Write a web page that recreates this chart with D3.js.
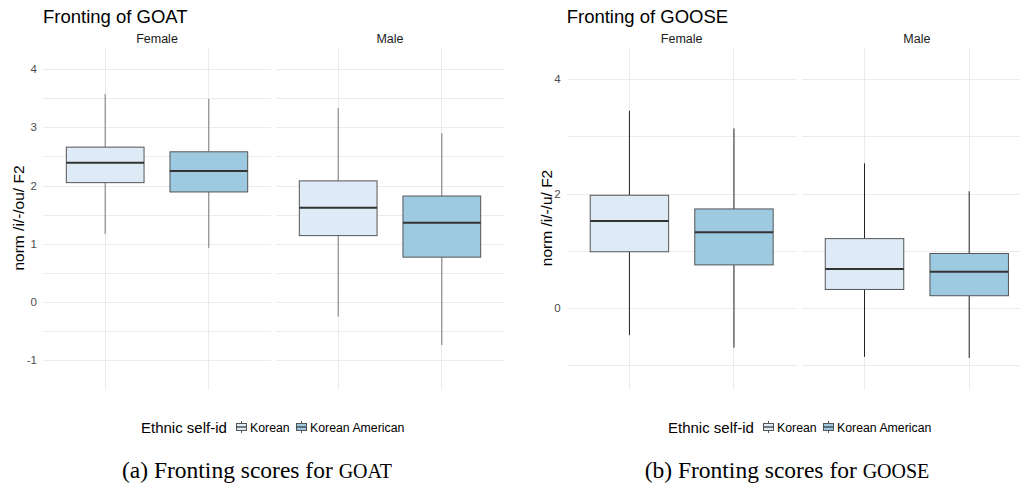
<!DOCTYPE html>
<html>
  <head>
    <meta charset="utf-8">
    <title>Fronting of GOAT and GOOSE</title>
    <style>
      body { margin: 0; background: #fff; }
      svg { display: block; font-family: "Liberation Sans", Arial, sans-serif; }
      .grid { stroke: #ebebeb; stroke-width: 1px; shape-rendering: crispEdges; }
      .tick-label { fill: #4d4d4d; font-size: 11.5px; }
      .strip { fill: #1a1a1a; font-size: 12.5px; }
      .title { fill: #000; font-size: 18.5px; }
      .ytitle { fill: #000; font-size: 15.5px; }
      .caption, .caption tspan { font-family: "Liberation Serif", "Times New Roman", serif; fill: #000; }
      .caption { font-size: 23.5px; }
      .caption .sc { font-size: 20px; }
    </style>
  </head>
  <body>
    <script src="https://cdn.jsdelivr.net/npm/d3@7"></script>
    <script>
      const width = 1020;
      const height = 486;

      const genders = ["Female", "Male"];
      const ethnicities = ["Korean", "Korean American"];
      const fills = ["#deebf7", "#9ecae1"];

      // order of each array: Female-Korean, Female-KA, Male-Korean, Male-KA
      const goatLow = [1.17, 0.93, -0.25, -0.74];
      const goatQ1 = [2.05, 1.89, 1.14, 0.77];
      const goatMedian = [2.39, 2.25, 1.62, 1.36];
      const goatQ3 = [2.66, 2.58, 2.08, 1.82];
      const goatHigh = [3.57, 3.49, 3.33, 2.90];
      const goatTicks = [-1, 0, 1, 2, 3, 4];
      const goatMinor = [-0.5, 0.5, 1.5, 2.5, 3.5];

      const gooseLow = [-0.48, -0.70, -0.86, -0.88];
      const gooseQ1 = [0.98, 0.75, 0.32, 0.21];
      const gooseMedian = [1.52, 1.32, 0.68, 0.63];
      const gooseQ3 = [1.97, 1.73, 1.21, 0.95];
      const gooseHigh = [3.45, 3.14, 2.53, 2.04];
      const gooseTicks = [0, 2, 4];
      const gooseMinor = [-1, 1, 3];

      const svg = d3.select("body")
        .append("svg")
        .attr("width", width)
        .attr("height", height);

      function toRows(low, q1, med, q3, high) {
        return low.map((d, i) => ({
          gender: genders[Math.floor(i / 2)],
          eth: ethnicities[i % 2],
          low: d, q1: q1[i], med: med[i], q3: q3[i], high: high[i]
        }));
      }

      function drawChart(opts) {
        const g = svg.append("g");
        const y = d3.scaleLinear().domain(opts.yDomain).range([390, 47]);

        g.append("text")
          .attr("class", "title")
          .attr("x", opts.panels[0][0])
          .attr("y", 23)
          .text(opts.title);

        g.append("text")
          .attr("class", "ytitle")
          .attr("transform", `translate(${opts.yTitleX},218) rotate(-90)`)
          .attr("text-anchor", "middle")
          .text(opts.yTitle);

        g.selectAll(".tick-label")
          .data(opts.ticks)
          .join("text")
          .attr("class", "tick-label")
          .attr("x", opts.panels[0][0] - 6)
          .attr("y", d => y(d))
          .attr("dy", "0.35em")
          .attr("text-anchor", "end")
          .text(d => d);

        genders.forEach((gender, gi) => {
          const [x0, x1] = opts.panels[gi];
          const x = d3.scalePoint().domain(ethnicities).range([x0, x1]).padding(0.6);
          const boxW = x.step() * 0.75;
          const p = g.append("g");

          p.append("text")
            .attr("class", "strip")
            .attr("x", (x0 + x1) / 2)
            .attr("y", 43)
            .attr("text-anchor", "middle")
            .text(gender);

          p.selectAll(".hgrid")
            .data(opts.ticks.concat(opts.minor))
            .join("line")
            .attr("class", "grid")
            .attr("x1", x0).attr("x2", x1)
            .attr("y1", d => Math.round(y(d)) + 0.5)
            .attr("y2", d => Math.round(y(d)) + 0.5);

          p.selectAll(".vgrid")
            .data(ethnicities)
            .join("line")
            .attr("class", "grid")
            .attr("x1", d => x(d)).attr("x2", d => x(d))
            .attr("y1", 47).attr("y2", 390);

          const rows = opts.rows.filter(r => r.gender === gender);
          const box = p.selectAll(".box")
            .data(rows)
            .join("g");

          box.append("line")
            .attr("x1", d => x(d.eth)).attr("x2", d => x(d.eth))
            .attr("y1", d => y(d.high)).attr("y2", d => y(d.q3))
            .attr("stroke", opts.whisker).attr("stroke-width", 1);
          box.append("line")
            .attr("x1", d => x(d.eth)).attr("x2", d => x(d.eth))
            .attr("y1", d => y(d.q1)).attr("y2", d => y(d.low))
            .attr("stroke", opts.whisker).attr("stroke-width", 1);
          box.append("rect")
            .attr("x", d => x(d.eth) - boxW / 2)
            .attr("y", d => y(d.q3))
            .attr("width", boxW)
            .attr("height", d => y(d.q1) - y(d.q3))
            .attr("fill", d => fills[ethnicities.indexOf(d.eth)])
            .attr("stroke", "#555")
            .attr("stroke-width", 1);
          box.append("line")
            .attr("x1", d => x(d.eth) - boxW / 2).attr("x2", d => x(d.eth) + boxW / 2)
            .attr("y1", d => y(d.med)).attr("y2", d => y(d.med))
            .attr("stroke", "#333").attr("stroke-width", 2);
        });

        // legend
        const lg = g.append("g").attr("transform", `translate(${opts.legendX},427)`);
        lg.append("text")
          .attr("y", 5.5)
          .attr("font-size", 15)
          .attr("fill", "#000")
          .text("Ethnic self-id");
        const keyX = [95, 155];
        ethnicities.forEach((eth, i) => {
          const k = lg.append("g").attr("transform", `translate(${keyX[i]},0)`);
          k.append("line").attr("x1", 5.5).attr("x2", 5.5).attr("y1", -6).attr("y2", 6)
            .attr("stroke", "#555");
          k.append("rect").attr("x", 0.5).attr("y", -3.5).attr("width", 10).attr("height", 7)
            .attr("fill", fills[i]).attr("stroke", "#555");
          k.append("line").attr("x1", 0.5).attr("x2", 10.5).attr("y1", 0).attr("y2", 0)
            .attr("stroke", "#333").attr("stroke-width", 1.2);
          k.append("text")
            .attr("x", 14)
            .attr("y", 4.5)
            .attr("font-size", 12.3)
            .attr("fill", "#000")
            .text(eth);
        });

        // caption with small-caps word (uppercase at reduced size)
        const cap = g.append("text")
          .attr("class", "caption")
          .attr("x", opts.captionX)
          .attr("y", 478)
          .attr("text-anchor", "middle");
        cap.append("tspan").text(opts.caption);
        cap.append("tspan").attr("class", "sc").text(opts.captionWord);
      }

      drawChart({
        title: "Fronting of GOAT",
        yTitle: "norm /i/-/ou/ F2",
        yTitleX: 24,
        yDomain: [-1.512, 4.38],
        ticks: goatTicks,
        minor: goatMinor,
        panels: [[43, 271], [276, 504]],
        rows: toRows(goatLow, goatQ1, goatMedian, goatQ3, goatHigh),
        whisker: "#777",
        legendX: 141,
        caption: "(a) Fronting scores for ",
        captionWord: "GOAT",
        captionX: 257
      });

      drawChart({
        title: "Fronting of GOOSE",
        yTitle: "norm /i/-/u/ F2",
        yTitleX: 552,
        yDomain: [-1.441, 4.566],
        ticks: gooseTicks,
        minor: gooseMinor,
        panels: [[566.7, 796.7], [801.7, 1032]],
        rows: toRows(gooseLow, gooseQ1, gooseMedian, gooseQ3, gooseHigh),
        whisker: "#222",
        legendX: 668,
        caption: "(b) Fronting scores for ",
        captionWord: "GOOSE",
        captionX: 787
      });
    </script>
  </body>
</html>
